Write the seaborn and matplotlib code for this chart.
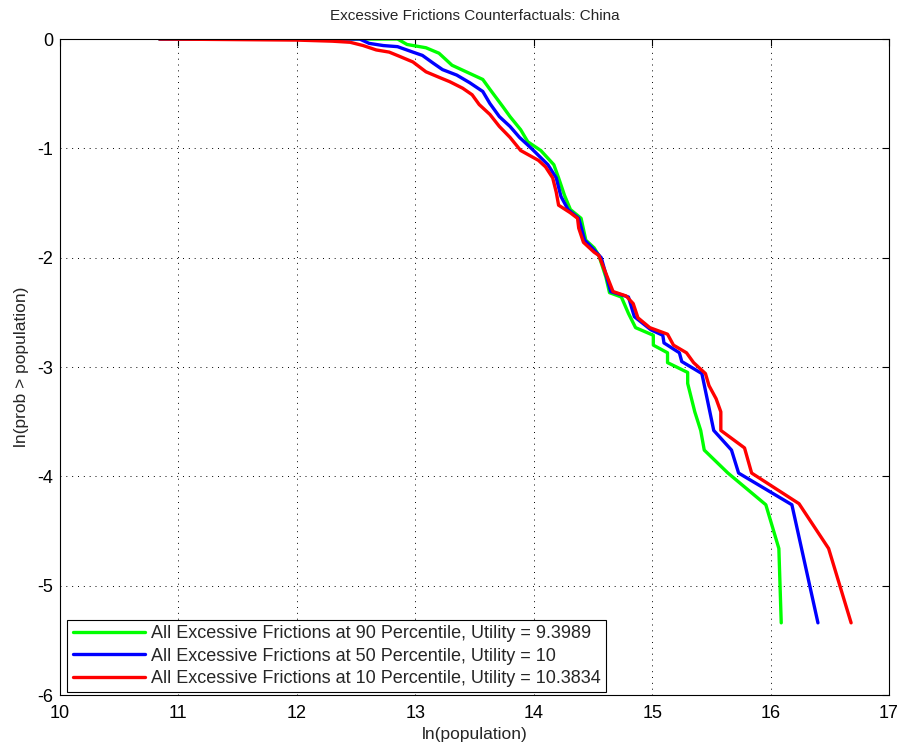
import numpy as np
import pandas as pd
import seaborn as sns
import matplotlib
matplotlib.use("Agg")
import matplotlib.pyplot as plt

# Data
green_x = [10.84, 12.85, 12.93, 13.09, 13.20, 13.31, 13.43, 13.57, 13.63, 13.74, 13.80, 13.89,
           13.95, 14.06, 14.17, 14.21, 14.26, 14.31, 14.40, 14.44, 14.51, 14.55, 14.61, 14.64,
           14.74, 14.80, 14.86, 15.01, 15.01, 15.13, 15.13, 15.30, 15.30, 15.36, 15.41, 15.44,
           15.64, 15.96, 16.07, 16.09]
green_y = [0.00, 0.00, -0.05, -0.08, -0.13, -0.24, -0.30, -0.37, -0.46, -0.62, -0.71, -0.83,
           -0.94, -1.02, -1.15, -1.27, -1.43, -1.56, -1.64, -1.84, -1.91, -1.98, -2.18, -2.32,
           -2.36, -2.51, -2.64, -2.71, -2.80, -2.87, -2.96, -3.05, -3.15, -3.41, -3.58, -3.76,
           -3.97, -4.26, -4.66, -5.34]

blue_x = [10.84, 12.53, 12.61, 12.73, 12.85, 12.98, 13.06, 13.15, 13.23, 13.35, 13.46, 13.57,
          13.63, 13.71, 13.80, 13.88, 13.98, 14.12, 14.19, 14.23, 14.29, 14.38, 14.43, 14.51,
          14.57, 14.65, 14.80, 14.85, 14.99, 15.09, 15.10, 15.23, 15.25, 15.42, 15.52, 15.67,
          15.73, 16.18, 16.40]
blue_y = [0.00, 0.00, -0.04, -0.06, -0.07, -0.12, -0.15, -0.22, -0.28, -0.33, -0.40, -0.48,
          -0.59, -0.71, -0.80, -0.90, -1.00, -1.15, -1.27, -1.44, -1.56, -1.64, -1.84, -1.93,
          -2.00, -2.31, -2.36, -2.54, -2.66, -2.71, -2.78, -2.87, -2.95, -3.06, -3.58, -3.76,
          -3.97, -4.26, -5.34]

red_x = [10.84, 12.00, 12.30, 12.45, 12.56, 12.67, 12.78, 12.87, 12.98, 13.09, 13.20, 13.29,
         13.40, 13.48, 13.54, 13.63, 13.71, 13.80, 13.89, 14.04, 14.10, 14.16, 14.19, 14.21,
         14.31, 14.37, 14.38, 14.42, 14.51, 14.55, 14.67, 14.78, 14.84, 14.88, 14.98, 15.13,
         15.18, 15.29, 15.35, 15.45, 15.48, 15.54, 15.58, 15.58, 15.78, 15.84, 16.24, 16.49,
         16.68]
red_y = [0.00, -0.01, -0.02, -0.03, -0.06, -0.10, -0.12, -0.16, -0.21, -0.30, -0.35, -0.39,
         -0.45, -0.51, -0.60, -0.69, -0.80, -0.90, -1.02, -1.11, -1.17, -1.27, -1.40, -1.52,
         -1.59, -1.64, -1.73, -1.86, -1.95, -1.98, -2.31, -2.35, -2.42, -2.55, -2.64, -2.70,
         -2.80, -2.87, -2.96, -3.06, -3.17, -3.29, -3.41, -3.58, -3.74, -3.97, -4.25, -4.66,
         -5.34]

labels = ["All Excessive Frictions at 90 Percentile, Utility = 9.3989",
          "All Excessive Frictions at 50 Percentile, Utility = 10",
          "All Excessive Frictions at 10 Percentile, Utility = 10.3834"]
colors = ["#00ff00", "#0000ff", "#ff0000"]

sns.set_style("white")
plt.rcParams['font.family'] = ['Liberation Sans', 'DejaVu Sans']
plt.rcParams['axes.unicode_minus'] = False

fig = plt.figure(figsize=(9.03, 7.46), dpi=100)
ax = fig.add_axes([60 / 903, 51 / 746, 829 / 903, 656 / 746])

for xs, ys, lab, c in zip([green_x, blue_x, red_x], [green_y, blue_y, red_y], labels, colors):
    d = pd.DataFrame({"x": xs, "y": ys})
    sns.lineplot(data=d, x="x", y="y", ax=ax, color=c, linewidth=2.4, label=lab,
                 sort=False, estimator=None)

ax.set_xlim(10, 17)
ax.set_ylim(-6, 0)
ax.set_xticks(range(10, 18))
ax.set_yticks(range(-6, 1))
ax.grid(True, color="black", linestyle=(0, (1, 5)), linewidth=0.7)
ax.tick_params(direction="in", length=5, top=True, right=True, labelsize=13,
               color="black", labelcolor="black")
ax.tick_params(axis="x", pad=7)
ax.tick_params(axis="y", pad=5)
for s in ax.spines.values():
    s.set_visible(True)
    s.set_color("black")
    s.set_linewidth(0.8)

ax.set_xlabel("ln(population)", fontsize=12.5, labelpad=4)
ax.set_ylabel("ln(prob > population)", fontsize=12.5, labelpad=6)
ax.set_title("Excessive Frictions Counterfactuals: China", fontsize=11, pad=14)

leg = ax.legend(loc="lower left", bbox_to_anchor=(0.009, 0.004), fontsize=13, frameon=True,
                fancybox=False, edgecolor="black", framealpha=1, handlelength=4.0,
                borderpad=0.3, labelspacing=0.3, handletextpad=0.3, borderaxespad=0.0)
leg.get_frame().set_linewidth(0.8)

fig.savefig("out.png", dpi=100)
